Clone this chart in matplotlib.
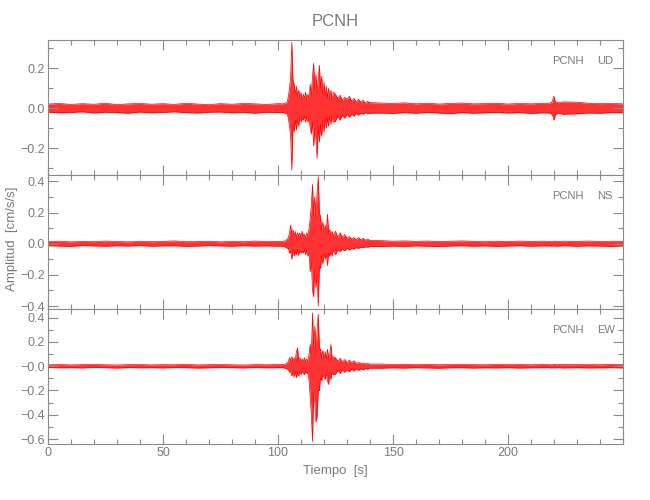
import matplotlib
matplotlib.use('Agg')
import matplotlib.pyplot as plt
from matplotlib.ticker import MultipleLocator
import numpy as np

plt.rcParams['font.family'] = ['Liberation Sans', 'DejaVu Sans']

# station / components
station = 'PCNH'
comps = ['UD', 'NS', 'EW']

# time knots (s) - coarse where the trace is quiet, fine around the event
t = np.r_[np.arange(0, 101, 5), [102, 103, 104],
          np.arange(104.5, 124.01, 0.5), np.arange(125, 141, 1),
          np.arange(145, 216, 5), [218, 219, 219.5, 220, 220.5, 221, 222, 224],
          np.arange(230, 251, 5)]

# envelope of the traces (cm/s/s)
ud_hi = [.021, .024, .019, .023, .020, .025, .018, .022, .024, .020, .023, .019, .025, .021, .018, .023, .020, .024, .022, .019, .023,
         .022, .025, .030,
         .06, .10, .16, .33, .14, .12, .07, .11, .06, .09, .05, .08, .04, .07, .05, .08, .04, .07, .05, .12,
         .07, .16, .225, .09, .17, .08, .15, .215, .10, .16, .07, .13, .06, .11, .05, .10, .05, .09, .04, .08,
         .07, .05, .065, .04, .055, .045, .06, .035, .05, .03, .045, .03, .04, .025, .035, .028,
         .026, .024, .027, .022, .025, .021, .024, .026, .022, .023, .025, .021, .024, .022, .025,
         .025, .03, .045, .06, .035, .03, .028, .032,
         .03, .025, .023, .024, .022]
ud_lo = [-.020, -.023, -.021, -.018, -.024, -.020, -.022, -.025, -.019, -.023, -.021, -.018, -.022, -.024, -.020, -.019, -.023, -.021, -.025, -.020, -.022,
         -.021, -.024, -.030,
         -.05, -.09, -.14, -.31, -.08, -.12, -.06, -.11, -.05, -.09, -.04, -.07, -.05, -.06, -.04, -.07, -.04, -.07, -.05, -.10,
         -.13, -.07, -.19, -.10, -.16, -.25, -.09, -.17, -.08, -.14, -.06, -.12, -.05, -.10, -.05, -.09, -.04, -.08, -.04, -.07,
         -.065, -.04, -.06, -.035, -.05, -.03, -.045, -.03, -.04, -.025, -.035, -.025, -.03, -.022, -.028, -.025,
         -.024, -.026, -.022, -.025, -.021, -.024, -.027, -.022, -.025, -.023, -.021, -.024, -.022, -.026, -.023,
         -.024, -.03, -.04, -.06, -.035, -.028, -.026, -.03,
         -.028, -.024, -.025, -.022, -.023]

ns_hi = [.014, .016, .012, .015, .013, .017, .014, .012, .016, .013, .015, .018, .013, .014, .016, .012, .015, .013, .017, .014, .015,
         .015, .018, .030,
         .04, .07, .12, .06, .09, .05, .08, .04, .07, .05, .07, .04, .08, .05, .06, .04, .07, .05, .10, .16,
         .25, .38, .18, .30, .16, .33, .43, .20, .17, .09, .14, .07, .12, .08, .19, .07, .09, .05, .08, .05,
         .08, .04, .07, .04, .06, .035, .045, .03, .04, .025, .04, .025, .035, .022, .03, .022,
         .020, .016, .018, .015, .017, .014, .016, .018, .015, .013, .016, .014, .017, .015, .016,
         .015, .013, .016, .014, .017, .015, .014, .016,
         .015, .017, .014, .016, .015]
ns_lo = [-.013, -.015, -.017, -.012, -.014, -.016, -.013, -.015, -.012, -.016, -.014, -.013, -.017, -.015, -.012, -.014, -.016, -.013, -.015, -.014, -.016,
         -.016, -.020, -.030,
         -.03, -.06, -.05, -.10, -.04, -.08, -.05, -.07, -.04, -.075, -.04, -.06, -.05, -.06, -.04, -.07, -.04, -.08, -.06, -.18,
         -.12, -.30, -.34, -.16, -.28, -.20, -.40, -.15, -.16, -.08, -.13, -.06, -.10, -.07, -.14, -.06, -.08, -.05, -.08, -.04,
         -.07, -.04, -.05, -.035, -.045, -.03, -.04, -.03, -.035, -.025, -.03, -.022, -.025, -.02, -.022, -.018,
         -.018, -.015, -.017, -.014, -.016, -.018, -.015, -.013, -.016, -.014, -.017, -.015, -.013, -.016, -.014,
         -.014, -.016, -.013, -.015, -.014, -.016, -.015, -.013,
         -.016, -.014, -.015, -.017, -.014]

ew_hi = [.012, .014, .011, .013, .015, .012, .010, .013, .014, .011, .013, .012, .015, .011, .013, .014, .012, .010, .013, .012, .014,
         .013, .016, .030,
         .04, .07, .05, .08, .04, .07, .05, .12, .15, .05, .07, .04, .06, .04, .07, .04, .06, .04, .10, .18,
         .10, .44, .15, .33, .12, .29, .43, .15, .14, .07, .13, .06, .12, .06, .14, .07, .10, .18, .06, .08,
         .07, .04, .065, .035, .055, .03, .05, .03, .045, .025, .03, .025, .025, .02, .022, .018,
         .018, .014, .016, .013, .015, .012, .014, .016, .013, .012, .015, .013, .014, .012, .015,
         .013, .012, .014, .013, .015, .012, .014, .013,
         .013, .014, .012, .015, .013]
ew_lo = [-.011, -.013, -.012, -.014, -.010, -.012, -.015, -.011, -.013, -.012, -.014, -.011, -.012, -.015, -.013, -.011, -.012, -.014, -.011, -.013, -.012,
         -.012, -.015, -.025,
         -.03, -.05, -.04, -.08, -.04, -.09, -.04, -.095, -.05, -.08, -.04, -.07, -.04, -.06, -.07, -.04, -.06, -.05, -.12, -.25,
         -.40, -.62, -.22, -.30, -.46, -.42, -.20, -.20, -.09, -.12, -.07, -.09, -.11, -.06, -.12, -.15, -.06, -.11, -.05, -.07,
         -.065, -.035, -.06, -.03, -.05, -.03, -.045, -.025, -.04, -.022, -.035, -.02, -.03, -.018, -.025, -.016,
         -.016, -.013, -.015, -.012, -.014, -.016, -.013, -.012, -.015, -.013, -.014, -.012, -.015, -.013, -.012,
         -.012, -.014, -.013, -.012, -.014, -.013, -.012, -.014,
         -.012, -.014, -.013, -.012, -.014]

# axis ranges and tick labels per panel
ylims = [(-0.333, 0.342), (-0.421, 0.443), (-0.641, 0.469)]
yticks = [[-0.2, 0.0, 0.2], [-0.4, -0.2, 0.0, 0.2, 0.4], [-0.6, -0.4, -0.2, 0.0, 0.2, 0.4]]
ylabels = [['\u22120.2', '0.0', '0.2'],
           ['\u22120.4', '\u22120.2', '0.0', '0.2', '0.4'],
           ['\u22120.6', '\u22120.4', '\u22120.2', '\u22120.0', '0.2', '0.4']]
xticks = [0, 50, 100, 150, 200, 250]
xlabels = ['0', '50', '100', '150', '200', '']

gray = '#8a8a8a'
txtgray = '#7a7a7a'

fig = plt.figure(figsize=(6.5, 5), dpi=100)
fig.subplots_adjust(left=0.0738, right=0.9585, bottom=0.112, top=0.92, hspace=0)
axes = fig.subplots(3, 1, sharex=True)

traces = [(ud_hi, ud_lo), (ns_hi, ns_lo), (ew_hi, ew_lo)]
for i, ax in enumerate(axes):
    hi, lo = traces[i]
    ax.fill_between(t, lo, hi, color='red', lw=0, alpha=0.8)
    ax.plot(t, hi, color='red', lw=0.5)
    ax.plot(t, lo, color='red', lw=0.5)
    ax.set_xlim(0, 250)
    ax.set_ylim(*ylims[i])
    ax.set_yticks(yticks[i])
    ax.set_yticklabels(ylabels[i])
    ax.yaxis.set_minor_locator(MultipleLocator(0.1))
    ax.set_xticks(xticks)
    ax.set_xticklabels(xlabels)
    ax.xaxis.set_minor_locator(MultipleLocator(10))
    ax.tick_params(which='both', direction='in', top=True, right=True,
                   color=gray, labelcolor=txtgray, labelsize=9, pad=2)
    ax.tick_params(which='major', length=7, width=0.8)
    ax.tick_params(which='minor', length=3.5, width=0.8)
    for s in ax.spines.values():
        s.set_color(gray)
        s.set_linewidth(0.8)
    ax.text(0.932, 0.845, station, transform=ax.transAxes, ha='right', va='center',
            color=txtgray, fontsize=8)
    ax.text(0.955, 0.845, comps[i], transform=ax.transAxes, ha='left', va='center',
            color=txtgray, fontsize=8)
    if i < 2:
        ax.tick_params(labelbottom=False)

fig.text(0.516, 0.958, station, ha='center', va='center', color=txtgray, fontsize=12)
fig.text(0.516, 0.058, 'Tiempo  [s]', ha='center', va='center', color=txtgray, fontsize=9.5)
fig.text(0.019, 0.522, 'Amplitud  [cm/s/s]', ha='center', va='center', rotation=90,
         color=txtgray, fontsize=9.5)

fig.savefig('out.png', dpi=100)
